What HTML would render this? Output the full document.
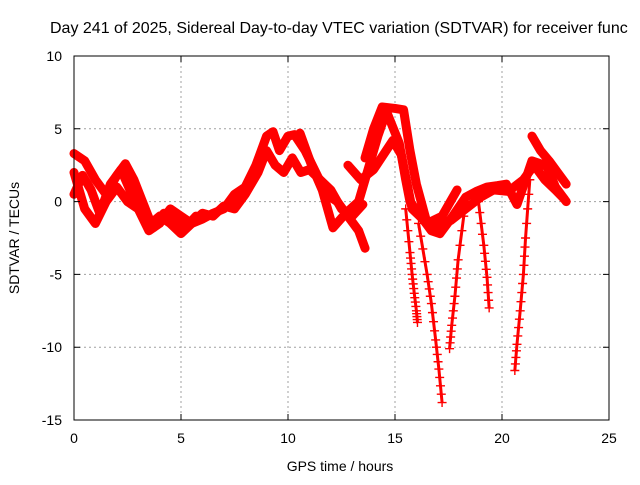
<!DOCTYPE html>
<html><head><meta charset="utf-8"><style>
body{margin:0;background:#fff;width:640px;height:480px;overflow:hidden}
text{font-family:"Liberation Sans",sans-serif;font-size:14px;fill:#000}
</style></head><body>
<svg id="chart" width="640" height="480" xmlns="http://www.w3.org/2000/svg">
<text x="50" y="33" style="font-size:16px">Day 241 of 2025, Sidereal Day-to-day VTEC variation (SDTVAR) for receiver func</text>
<g id="grid"></g>
<g id="plot"></g>
<g id="axes"></g>
<text transform="translate(19,238) rotate(-90)" text-anchor="middle">SDTVAR / TECUs</text>
<text x="340" y="471" text-anchor="middle">GPS time / hours</text>
</svg>
<script>
const xTicks=[0,5,10,15,20,25];
const yTicks=[10,5,0,-5,-10,-15];
const trackA=[[0,3.3],[0.5,2.8],[1,1.5],[1.5,0.5],[2,1.8],[2.4,2.6],[2.8,1.5],[3.2,0],[3.6,-1.5],[4,-1],[4.5,-1.5],[5,-2.2],[5.5,-1.5],[6,-1.2],[6.5,-0.8],[7,-0.5],[7.5,0.5],[8,1],[8.5,2.5],[9,4.5],[9.3,4.8],[9.6,3.5],[10,4.5],[10.3,4.6],[10.8,3.5],[11.3,2],[11.8,0.5],[12.3,0],[12.8,-1],[13.3,-2],[13.6,-3.2]];
const trackB=[[0,2],[0.5,-0.5],[1,-1.5],[1.5,0],[2,1],[2.5,0],[3,-0.5],[3.5,-2],[4,-1.5],[4.5,-0.5],[5,-1],[5.5,-1.5],[6,-0.8],[6.5,-1],[7,-0.3],[7.5,-0.5],[8,0.5],[8.6,2],[9,3.5],[9.4,2.5],[9.8,2],[10.2,3],[10.6,2],[11,2.2],[11.5,1.5],[12,0.8],[12.5,-0.5],[13,-1],[13.5,-0.2]];
const trackC=[[0,0.5],[0.4,1.8],[0.8,0.8],[1.2,-0.8],[1.7,1.2],[2.2,2.2],[2.7,0.5],[3.2,-1],[3.7,-1.8],[4.2,-0.8],[4.7,-1.2],[5.2,-1.8],[5.7,-1]];
const trackD=[[10.56,4.7],[11.1,2.5],[11.6,0.8],[12.1,-1.8],[12.7,-0.8],[13.3,0],[13.8,2.5],[14.2,4.5],[14.6,6.2],[15.2,4],[15.5,1.5],[15.7,0],[16.2,-1],[16.7,-2],[17.1,-2.2],[17.7,-1],[18.3,0.3],[18.8,0.7],[19.3,1],[19.8,1.1],[20.2,1.2],[20.7,-0.2],[21.1,1.5],[21.4,2.8],[21.8,2.6],[22.1,2.4],[22.5,1],[23,0]];
const trackE=[[13.6,3],[14,5],[14.4,6.5],[15,6.4],[15.4,6.3],[15.7,3.5],[16,1.2],[16.5,-1.5],[17.2,-1],[17.9,0.8]];
const trackF=[[12.8,2.5],[13.4,1.5],[14,2.2],[14.9,4.2],[15.3,3.2],[15.8,-0.5],[16.3,-1.2],[17,-1.6],[17.6,-1.3],[18.3,-0.5],[19,0.3],[19.6,0.8],[20.3,0.7],[21,1.5],[21.5,2.5],[22,1.5],[22.5,0.8],[22.9,0.2]];
const trackG=[[21.4,4.5],[21.8,3.5],[22.2,2.8],[22.6,2],[23,1.2]];
const dip1=[[15.5,-0.5],[15.7,-3.5],[15.8,-5],[15.9,-6.3],[16,-7.5],[16.05,-8.3]];
const dip2=[[16.1,-1.5],[16.5,-5],[16.7,-7],[16.9,-9.5],[17.05,-11.5],[17.2,-13.8]];
const dip3=[[18.3,0],[17.95,-4],[17.8,-6.5],[17.65,-8.5],[17.55,-10.1]];
const dip4=[[18.9,0],[19.15,-3],[19.3,-5.2],[19.4,-7.3]];
const dip5=[[21.3,1.5],[21.1,-2.5],[21,-5],[20.85,-7.5],[20.7,-9.8],[20.6,-11.6]];
const tracks=[trackA,trackB,trackC,trackD,trackE,trackF,trackG];
const dips=[dip1,dip2,dip3,dip4,dip5];
const L=74,R=609,T=56,B=420;
const xs=v=>L+(v-0)/25*(R-L);
const ys=v=>T+(10-v)/25*(B-T);
const NS='http://www.w3.org/2000/svg';
function mk(tag,attrs,parent){const e=document.createElementNS(NS,tag);for(const k in attrs)e.setAttribute(k,attrs[k]);parent.appendChild(e);return e;}
const grid=document.getElementById('grid'),plot=document.getElementById('plot'),axes=document.getElementById('axes');
xTicks.forEach(t=>{
  if(t>0&&t<25){const g=mk('line',{x1:xs(t),x2:xs(t),y1:T,y2:B,stroke:'#a0a0a0','stroke-dasharray':'2,3'},grid);
  
  }
  const tk=mk('path',{d:`M${xs(t)},${B}v-6M${xs(t)},${T}v6`,stroke:'#000'},axes);
  
  
  const lb=mk('text',{x:xs(t),y:B+23,'text-anchor':'middle'},axes);lb.textContent=t;
  
  
});
yTicks.forEach(t=>{
  if(t<10&&t>-15){const g=mk('line',{x1:L,x2:R,y1:ys(t),y2:ys(t),stroke:'#a0a0a0','stroke-dasharray':'2,3'},grid);
  
  }
  const tk=mk('path',{d:`M${L},${ys(t)}h6M${R},${ys(t)}h-6`,stroke:'#000'},axes);
  
  
  const lb=mk('text',{x:L-12,y:ys(t)+5,'text-anchor':'end'},axes);lb.textContent=t;
  
  
});
const fr=mk('rect',{x:L,y:T,width:R-L,height:B-T,fill:'none',stroke:'#000'},axes);


tracks.forEach(tr=>{
  const p=mk('polyline',{points:tr.map(d=>xs(d[0])+','+ys(d[1])).join(' '),fill:'none',stroke:'#ff0000','stroke-width':9,'stroke-linejoin':'round','stroke-linecap':'round'},plot);
  
  
});
dips.forEach(dp=>{
  const p=mk('polyline',{points:dp.map(d=>xs(d[0])+','+ys(d[1])).join(' '),fill:'none',stroke:'#ff0000','stroke-width':3},plot);
  
  
  for(let i=0;i<dp.length-1;i++){
    for(let k=0;k<4;k++){
      const f=k/4,x=xs(dp[i][0]+(dp[i+1][0]-dp[i][0])*f),y=ys(dp[i][1]+(dp[i+1][1]-dp[i][1])*f);
      const m=mk('path',{d:`M${x-4.5},${y}h9M${x},${y-4.5}v9`,stroke:'#ff0000','stroke-width':1.4},plot);
      
      
    }
  }
  const e=dp[dp.length-1],x=xs(e[0]),y=ys(e[1]);
  const m=mk('path',{d:`M${x-4.5},${y}h9M${x},${y-4.5}v9`,stroke:'#ff0000','stroke-width':1.4},plot);
  
  
});
</script>
</body></html>
